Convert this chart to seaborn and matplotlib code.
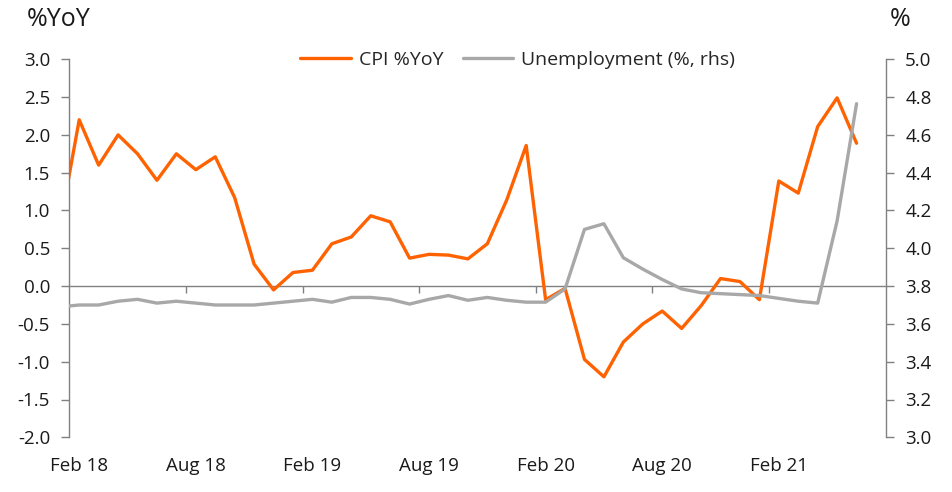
import numpy as np
import pandas as pd
import matplotlib
matplotlib.use("Agg")
import matplotlib.pyplot as plt
import seaborn as sns

# ---- data (monthly, Jan 18 .. Jun 21) ----
months = ["Jan 18", "Feb 18", "Mar 18", "Apr 18", "May 18", "Jun 18", "Jul 18", "Aug 18", "Sep 18", "Oct 18", "Nov 18", "Dec 18",
          "Jan 19", "Feb 19", "Mar 19", "Apr 19", "May 19", "Jun 19", "Jul 19", "Aug 19", "Sep 19", "Oct 19", "Nov 19", "Dec 19",
          "Jan 20", "Feb 20", "Mar 20", "Apr 20", "May 20", "Jun 20", "Jul 20", "Aug 20", "Sep 20", "Oct 20", "Nov 20", "Dec 20",
          "Jan 21", "Feb 21", "Mar 21", "Apr 21", "May 21", "Jun 21"]
cpi = [0.78, 2.20, 1.60, 2.00, 1.75, 1.40, 1.75, 1.54, 1.71, 1.17, 0.29, -0.05,
       0.18, 0.21, 0.56, 0.65, 0.93, 0.85, 0.37, 0.42, 0.41, 0.36, 0.56, 1.14,
       1.86, -0.18, -0.03, -0.97, -1.20, -0.74, -0.50, -0.33, -0.56, -0.26, 0.10, 0.06,
       -0.18, 1.39, 1.23, 2.11, 2.49, 1.89]
unemp = [3.69, 3.70, 3.70, 3.72, 3.73, 3.71, 3.72, 3.71, 3.70, 3.70, 3.70, 3.71,
         3.72, 3.73, 3.715, 3.74, 3.74, 3.73, 3.705, 3.73, 3.75, 3.725, 3.74, 3.725,
         3.715, 3.715, 3.785, 4.10, 4.13, 3.95, 3.89, 3.835, 3.785, 3.765, 3.76, 3.755,
         3.75, 3.735, 3.72, 3.71, 4.145, 4.765]
xtick_labels = ["Feb 18", "Aug 18", "Feb 19", "Aug 19", "Feb 20", "Aug 20", "Feb 21"]
left_ticks = [3.0, 2.5, 2.0, 1.5, 1.0, 0.5, 0.0, -0.5, -1.0, -1.5, -2.0]
right_ticks = [5.0, 4.8, 4.6, 4.4, 4.2, 4.0, 3.8, 3.6, 3.4, 3.2, 3.0]

df = pd.DataFrame({"month": months, "cpi": cpi, "unemp": unemp})
df["pos"] = np.arange(len(df))

ORANGE = "#FF6200"
GREY = "#A8A8A8"
AXC = "#808080"
TXT = "#1a1a1a"
FS = 13.5

sns.set_style("white")
plt.rcParams["font.family"] = ["Open Sans", "DejaVu Sans"]

fig = plt.figure(figsize=(9.53, 4.92), dpi=100)
ax = fig.add_axes([69.5 / 953, 1 - 437.3 / 492, (885.7 - 69.5) / 953, (437.3 - 59.3) / 492])
ax.set_facecolor("none")
ax2 = ax.twinx()

sns.lineplot(data=df, x="pos", y="cpi", ax=ax, color=ORANGE, linewidth=2.4, label="CPI %YoY", legend=False)
sns.lineplot(data=df, x="pos", y="unemp", ax=ax2, color=GREY, linewidth=2.4, label="Unemployment (%, rhs)", legend=False)

ax.set_xlim(0.5, 42.5)
ax.set_ylim(-2.0, 3.0)
ax2.set_ylim(3.0, 5.0)

# x labels at month centres
lab_pos = [df.loc[df["month"] == m, "pos"].iloc[0] for m in xtick_labels]
ax.set_xticks(lab_pos)
ax.set_xticklabels(xtick_labels)
ax.tick_params(axis="x", length=0, pad=14, labelsize=FS, labelcolor=TXT)

# zero line with boundary ticks
sec = ax.secondary_xaxis((0 - (-2.0)) / 5.0)
sec.set_xticks([p - 0.5 for p in lab_pos[1:]])
sec.set_xticklabels([""] * len(lab_pos[1:]))
sec.tick_params(axis="x", direction="out", length=5, width=1, color=AXC)
sec.spines["bottom"].set_color(AXC)
sec.spines["bottom"].set_linewidth(1)
sec.spines["top"].set_visible(False)

ax.set_yticks(left_ticks)
ax.set_yticklabels([f"{v:.1f}" for v in left_ticks])
ax2.set_yticks(right_ticks)
ax2.set_yticklabels([f"{v:.1f}" for v in right_ticks])
ax.tick_params(axis="y", direction="out", length=6, width=1, color=AXC, pad=8, labelsize=FS, labelcolor=TXT, left=True)
ax2.tick_params(axis="y", direction="out", length=6, width=1, color=AXC, pad=8, labelsize=FS, labelcolor=TXT, right=True)

for a in (ax, ax2):
    for s in ("top", "bottom"):
        a.spines[s].set_visible(False)
ax.spines["right"].set_visible(False)
ax2.spines["left"].set_visible(False)
ax.spines["left"].set_color(AXC)
ax2.spines["right"].set_color(AXC)
ax.spines["left"].set_linewidth(1)
ax2.spines["right"].set_linewidth(1)
ax.set_xlabel("")
ax.set_ylabel("")
ax2.set_ylabel("")
ax.grid(False)
ax2.grid(False)

fig.text(27 / 953, 1 - 19 / 492, "%YoY", ha="left", va="center", fontsize=18, color=TXT)
fig.text(890 / 953, 1 - 19 / 492, "%", ha="left", va="center", fontsize=18, color=TXT)

h1, l1 = ax.get_legend_handles_labels()
h2, l2 = ax2.get_legend_handles_labels()
fig.legend(h1 + h2, l1 + l2, loc="center", bbox_to_anchor=(517.5 / 953, 1 - 60 / 492), ncol=2,
           frameon=False, fontsize=14, handlelength=2.6, columnspacing=1.0, handletextpad=0.4)

fig.savefig("out.png", dpi=100)
